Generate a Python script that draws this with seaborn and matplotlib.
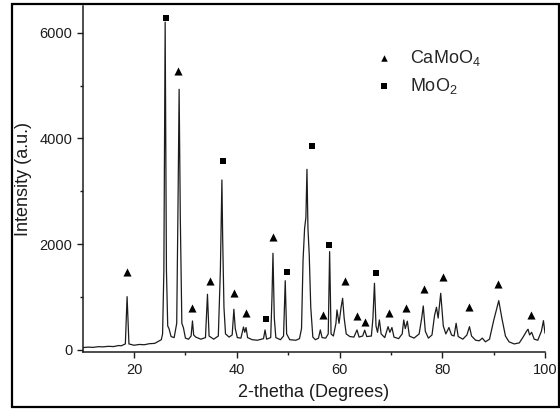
import matplotlib
matplotlib.use("Agg")
import matplotlib.pyplot as plt
import matplotlib.patches as mpatches
import seaborn as sns
import pandas as pd

# XRD pattern: 2-theta (degrees) and measured intensity (a.u.)
two_theta = [
    10.0, 11.0, 12.0, 13.0, 14.0, 15.0, 16.0, 17.0, 17.5, 18.3, 18.64, 19.0,
    20.0, 21.0, 22.0, 23.0, 24.0, 25.3,
    25.55, 25.8, 26.05, 26.3, 26.55, 26.8, 27.2, 27.8, 28.3, 28.55, 28.77, 29.0,
    29.3, 29.6, 30.0, 30.6, 31.1, 31.37, 31.6, 32.0, 33.0, 33.9, 34.29, 34.6,
    35.5, 36.4, 36.8, 37.1, 37.25, 37.5, 37.8, 38.5, 39.1, 39.43, 39.7, 40.1,
    40.8, 41.3, 41.55, 41.8, 42.1, 43.0, 44.0, 45.2, 45.5, 45.8, 46.6, 46.85,
    47.04, 47.3, 47.6, 48.5, 49.1, 49.43, 49.7, 50.3, 51.5, 52.2, 52.6, 52.9,
    53.2, 53.45, 53.66, 53.85, 54.1, 54.4, 54.8, 55.3, 55.9, 56.26, 56.6, 57.3,
    57.8, 58.07, 58.35, 58.8, 59.3, 59.5, 59.9, 60.3, 60.6, 60.9, 61.3, 62.0,
    62.8, 63.4, 63.8, 64.5, 64.9, 65.3, 66.2, 66.5, 66.8, 67.1, 67.4, 67.76,
    68.1, 68.8, 69.45, 69.8, 70.2, 70.6, 71.5, 72.2, 72.5, 72.8, 73.2, 73.6,
    74.5, 75.5, 76.0, 76.3, 76.7, 77.3, 78.0, 78.5, 78.87, 79.2, 79.7, 80.2,
    80.7, 81.3, 81.8, 82.3, 82.7, 83.1, 84.0, 84.8, 85.3, 85.7, 86.5, 87.2,
    87.8, 88.4, 89.2, 90.0, 91.0, 91.6, 92.3, 93.0, 94.0, 95.0, 95.8, 96.4,
    96.7, 97.0, 97.4, 97.9, 98.6, 99.3, 99.7, 100.0,
]
intensity = [
    40, 50, 45, 58, 55, 65, 60, 80, 75, 110, 1005, 110,
    85, 100, 95, 115, 120, 190,
    300, 1500, 6200, 1500, 450, 400, 250, 230, 500, 2700, 4930, 2500,
    500, 420, 220, 200, 260, 545, 280, 240, 200, 230, 1050, 260,
    200, 260, 1500, 3213, 2100, 800, 300, 240, 280, 766, 400, 230,
    220, 430, 330, 420, 230, 190, 180, 210, 375, 200, 230, 1000,
    1826, 600, 230, 190, 260, 1307, 300, 190, 180, 210, 400, 1700,
    2300, 2500, 3415, 2300, 1800, 800, 240, 190, 220, 375, 230, 220,
    300, 1857, 300, 260, 500, 753, 500, 800, 974, 600, 300, 250,
    240, 375, 240, 260, 370, 250, 260, 600, 1258, 450, 330, 564,
    300, 230, 437, 330, 420, 240, 210, 300, 564, 400, 540, 260,
    220, 300, 600, 829, 350, 220, 280, 650, 804, 600, 1069, 450,
    300, 420, 280, 260, 501, 250, 200, 280, 437, 260, 180, 170,
    220, 150, 200, 550, 929, 600, 260, 150, 110, 130, 250, 350,
    388, 280, 330, 200, 180, 350, 551, 312,
]

# Phase markers placed above the indexed reflections
camoo4_theta = [18.6, 28.6, 31.25, 34.7, 39.5, 41.8, 46.95, 56.7, 61.0, 63.4,
                64.9, 69.7, 72.95, 76.5, 80.1, 85.15, 90.8, 97.35]
camoo4_level = [1478, 5281, 785, 1307, 1069, 702, 2128, 658, 1307, 639,
                532, 702, 791, 1145, 1372, 816, 1245, 665]
moo2_theta = [26.3, 37.35, 45.7, 49.75, 54.65, 58.0, 67.05]
moo2_level = [6272, 3578, 577, 1466, 3856, 1989, 1447]

x_ticks = [20, 40, 60, 80, 100]
y_ticks = [0, 2000, 4000, 6000]

sns.set_theme(style="ticks")
plt.rcParams["font.family"] = ["Liberation Sans", "DejaVu Sans"]
plt.rcParams["mathtext.default"] = "regular"

fig = plt.figure(figsize=(5.6, 4.09), dpi=100)
ax = fig.add_axes([0.1477, 0.1384, 0.8255, 0.8462])

pattern = pd.DataFrame({"theta": two_theta, "counts": intensity})
sns.lineplot(data=pattern, x="theta", y="counts", ax=ax, color="#1c1c1c",
             linewidth=0.9, sort=False, estimator=None)

sns.scatterplot(x=camoo4_theta, y=camoo4_level, ax=ax, marker="^", s=34,
                color="black", edgecolor="black", linewidth=0, zorder=3,
                label="CaMoO$_4$")
sns.scatterplot(x=moo2_theta, y=moo2_level, ax=ax, marker="s", s=22,
                color="black", edgecolor="black", linewidth=0, zorder=3,
                label="MoO$_2$")

ax.set_xlim(10, 100)
ax.set_ylim(-50, 6500)
ax.set_xticks(x_ticks)
ax.set_yticks(y_ticks)
ax.set_xticks([30, 50, 70, 90], minor=True)
ax.set_yticks([1000, 3000, 5000], minor=True)
ax.tick_params(axis="both", which="major", direction="out", length=4.5,
               width=1.0, labelsize=10.5, colors="#1c1c1c", pad=3)
ax.tick_params(axis="both", which="minor", direction="out", length=2.5,
               width=1.0, colors="#1c1c1c")

ax.set_xlabel("2-thetha (Degrees)", fontsize=13, color="#1c1c1c", labelpad=5)
ax.set_ylabel("Intensity (a.u.)", fontsize=13, color="#1c1c1c", labelpad=5)

sns.despine(ax=ax)
for side in ("left", "bottom"):
    ax.spines[side].set_linewidth(1.1)
    ax.spines[side].set_color("#1c1c1c")

ax.legend(loc="upper left", bbox_to_anchor=(0.633, 0.88), frameon=False,
          fontsize=13, handlelength=1.0, handletextpad=0.9, labelspacing=0.45,
          borderpad=0, borderaxespad=0, markerscale=0.8)

# Outer border around the whole figure
fig.patches.append(mpatches.Rectangle((0.0214, 0.0049), 0.9766, 0.9846,
                                      transform=fig.transFigure, fill=False,
                                      edgecolor="black", linewidth=1.6))

fig.savefig("out.png", dpi=100)
